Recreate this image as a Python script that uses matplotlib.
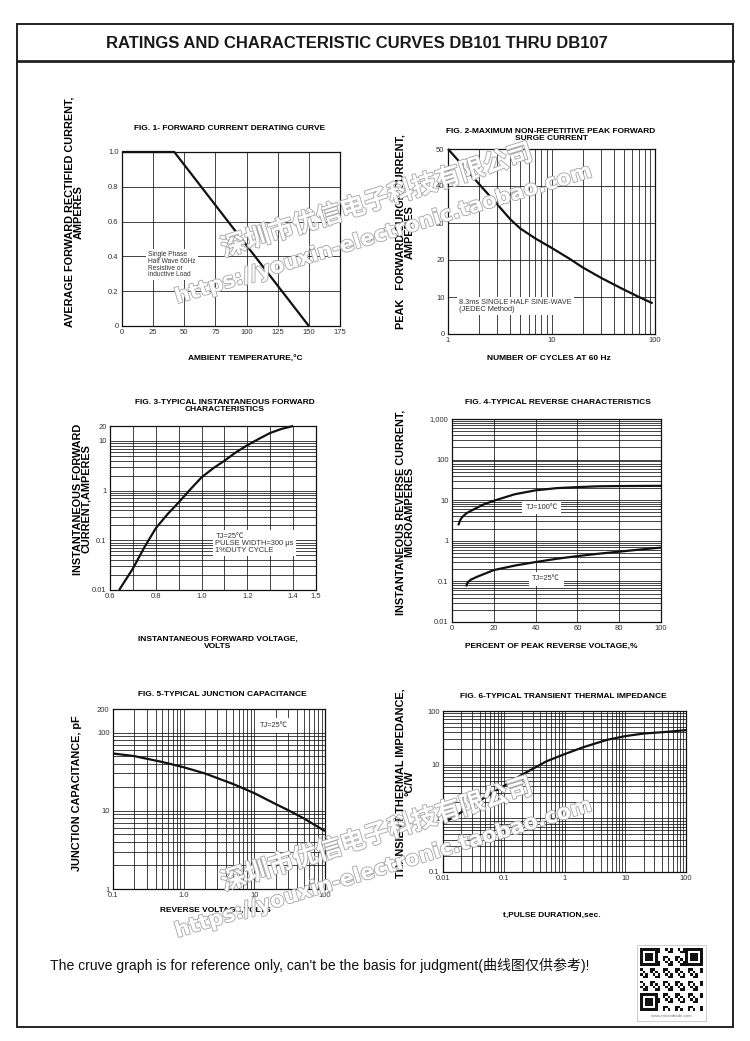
import matplotlib
matplotlib.use('Agg')
import matplotlib.pyplot as plt
import matplotlib.patheffects as pe
from matplotlib.patches import Rectangle
from matplotlib.lines import Line2D
from matplotlib.ticker import FixedLocator, LogLocator, NullFormatter

plt.rcParams['font.family'] = ['Liberation Sans', 'Noto Sans CJK SC', 'DejaVu Sans']

W, H = 750, 1041

# ---- values ----
# Fig 1 - forward current derating
f1_temp = [0, 42, 150]
f1_amps = [1.0, 1.0, 0.0]

# Fig 2 - peak forward surge current
f2_cycles = [1, 1.5, 2, 3, 4, 5, 7, 10, 15, 20, 30, 50, 70, 95]
f2_amps = [50, 44.5, 40.5, 35, 31, 28.5, 25.8, 23.3, 20.3, 18, 15.2, 12, 10, 8.3]

# Fig 3 - instantaneous forward characteristics
f3_volts = [0.64, 0.7, 0.75, 0.8, 0.85, 0.9, 0.95, 1.0, 1.05, 1.1, 1.15, 1.2, 1.25, 1.3, 1.35, 1.4]
f3_amps = [0.01, 0.027, 0.072, 0.175, 0.33, 0.58, 1.05, 1.85, 2.8, 4.0, 5.9, 8.2, 11, 14.5, 17.5, 20]

# Fig 4 - reverse characteristics
f4_pct_100 = [3, 4, 5, 7, 10, 15, 20, 30, 40, 50, 60, 70, 80, 100]
f4_ua_100 = [2.4, 3.3, 3.9, 4.8, 5.8, 7.8, 9.7, 14, 17.5, 19.8, 21, 22, 22.3, 22.6]
f4_pct_25 = [6.8, 7.5, 9, 12, 20, 30, 40, 50, 60, 70, 80, 90, 100]
f4_ua_25 = [0.075, 0.095, 0.11, 0.13, 0.19, 0.245, 0.30, 0.36, 0.42, 0.48, 0.54, 0.61, 0.68]

# Fig 5 - junction capacitance
f5_volts = [0.1, 0.2, 0.5, 1, 2, 5, 10, 20, 30, 50, 100]
f5_pf = [54, 50, 42, 36, 30, 22, 16.8, 12.2, 10.2, 8, 5.5]

# Fig 6 - transient thermal impedance
f6_sec = [0.01, 0.02, 0.05, 0.1, 0.2, 0.5, 1, 2, 5, 10, 20, 50, 100]
f6_cw = [0.8, 1.3, 2.5, 4, 6.5, 11.5, 15.7, 21, 29, 34, 38, 41, 44]

fig = plt.figure(figsize=(W / 100, H / 100), dpi=100)
fig.patch.set_facecolor('white')


def px_axes(l, t, r, b):
    return fig.add_axes([l / W, 1 - b / H, (r - l) / W, (b - t) / H])


def ftext(x, y, s, **kw):
    return fig.text(x / W, 1 - y / H, s, **kw)


grid_kw = dict(color='#111111', linewidth=0.55)
curve_kw = dict(color='#111111', linewidth=1.6, solid_capstyle='butt', clip_on=False, zorder=4)
box_kw = dict(facecolor='white', edgecolor='none', pad=1.5)


def style(ax):
    ax.tick_params(which='both', length=0, pad=2.5, labelsize=5.5, labelcolor='#333333')
    for s in ax.spines.values():
        s.set_linewidth(0.9)
        s.set_color('#111111')
    ax.set_axisbelow(True)


def log_minor(axis):
    axis.set_minor_locator(LogLocator(base=10, subs=range(2, 10)))
    axis.set_minor_formatter(NullFormatter())


# ---------- frame ----------
fig.add_artist(Rectangle((17 / W, 1 - 1027 / H), (733 - 17) / W, (1027 - 24) / H,
                         transform=fig.transFigure, fill=False, lw=1.4, ec='#222222'))
fig.add_artist(Line2D([17 / W, 733 / W], [1 - 61 / H, 1 - 61 / H],
                      transform=fig.transFigure, lw=2.0, color='#222222'))
ftext(357, 43, 'RATINGS AND CHARACTERISTIC CURVES DB101 THRU DB107',
      fontsize=12, fontweight='bold', ha='center', va='center', color='#1a1a1a')

# ---------- Fig 1 ----------
ax1 = px_axes(122, 152, 340, 326)
style(ax1)
ax1.plot(f1_temp, f1_amps, **curve_kw)
ax1.set_xlim(0, 175)
ax1.set_ylim(0, 1.0)
ax1.set_xticks(range(0, 176, 25))
ax1.set_yticks([0, 0.2, 0.4, 0.6, 0.8, 1.0])
ax1.set_yticklabels(['0', '0.2', '0.4', '0.6', '0.8', '1.0'])
ax1.grid(True, **grid_kw)
ax1.text(21, 0.352, 'Single Phase\nHalf Wave 60Hz\nResistive or\ninductive Load',
         fontsize=4.8, ha='left', va='center', linespacing=0.95, color='#333333', bbox=box_kw)
ftext(230, 129, 'FIG. 1- FORWARD CURRENT DERATING CURVE', fontsize=6, fontweight='bold',
      ha='center', va='center')
ftext(245, 359, 'AMBIENT TEMPERATURE,°C', fontsize=6, fontweight='bold', ha='center', va='center')
ftext(74, 212, 'AVERAGE FORWARD RECTIFIED CURRENT,\nAMPERES', fontsize=7.8, fontweight='bold',
      rotation=90, ha='center', va='center', linespacing=0.85)

# ---------- Fig 2 ----------
ax2 = px_axes(448, 149, 655, 334)
style(ax2)
ax2.plot(f2_cycles, f2_amps, **curve_kw)
ax2.set_xscale('log')
ax2.set_xlim(1, 100)
ax2.set_ylim(0, 50)
ax2.xaxis.set_major_locator(FixedLocator([1, 10, 100]))
ax2.set_xticklabels(['1', '10', '100'])
log_minor(ax2.xaxis)
ax2.set_yticks(range(0, 51, 10))
ax2.grid(True, which='both', axis='x', **grid_kw)
ax2.grid(True, which='major', axis='y', **grid_kw)
ax2.text(1.28, 7.6, '8.3ms SINGLE HALF SINE-WAVE\n(JEDEC Method)', fontsize=5.3,
         ha='left', va='center', linespacing=1.0, color='#333333', bbox=box_kw)
ftext(551, 135, 'FIG. 2-MAXIMUM NON-REPETITIVE PEAK FORWARD\nSURGE CURRENT', fontsize=6,
      fontweight='bold', ha='center', va='center', linespacing=0.85)
ftext(549, 359, 'NUMBER OF CYCLES AT 60 Hz', fontsize=6, fontweight='bold', ha='center', va='center')
ftext(405, 232, 'PEAK   FORWARD SURGE CURRENT,\nAMPERES', fontsize=7.8, fontweight='bold',
      rotation=90, ha='center', va='center', linespacing=0.85)

# ---------- Fig 3 ----------
ax3 = px_axes(110, 426, 316, 590)
style(ax3)
ax3.plot(f3_volts, f3_amps, **curve_kw)
ax3.set_yscale('log')
ax3.set_xlim(0.6, 1.5)
ax3.set_ylim(0.01, 20)
f3_xt = [0.6, 0.7, 0.8, 0.9, 1.0, 1.1, 1.2, 1.3, 1.4, 1.5]
ax3.set_xticks(f3_xt)
ax3.set_xticklabels(['0.6', '', '0.8', '', '1.0', '', '1.2', '', '1.4', '1.5'])
ax3.yaxis.set_major_locator(FixedLocator([0.01, 0.1, 1, 10, 20]))
ax3.set_yticklabels(['0.01', '0.1', '1', '10', '20'])
log_minor(ax3.yaxis)
ax3.grid(True, which='major', axis='x', **grid_kw)
ax3.grid(True, which='both', axis='y', **grid_kw)
ax3.text(1.06, 0.088, 'TJ=25℃\nPULSE WIDTH=300 μs\n1%DUTY CYCLE', fontsize=5.4,
         ha='left', va='center', linespacing=1.0, color='#333333', bbox=box_kw)
ftext(225, 406, 'FIG. 3-TYPICAL INSTANTANEOUS FORWARD\nCHARACTERISTICS', fontsize=6,
      fontweight='bold', ha='center', va='center', linespacing=0.85)
ftext(218, 643, 'INSTANTANEOUS FORWARD VOLTAGE,\nVOLTS', fontsize=6, fontweight='bold',
      ha='center', va='center', linespacing=0.9)
ftext(82, 499, 'INSTANTANEOUS FORWARD\nCURRENT,AMPERES', fontsize=7.8, fontweight='bold',
      rotation=90, ha='center', va='center', linespacing=0.85)

# ---------- Fig 4 ----------
ax4 = px_axes(452, 419, 661, 622)
style(ax4)
ax4.plot(f4_pct_100, f4_ua_100, **curve_kw)
ax4.plot(f4_pct_25, f4_ua_25, **curve_kw)
ax4.set_yscale('log')
ax4.set_xlim(0, 100)
ax4.set_ylim(0.01, 1000)
ax4.set_xticks(range(0, 101, 20))
ax4.yaxis.set_major_locator(FixedLocator([0.01, 0.1, 1, 10, 100, 1000]))
ax4.set_yticklabels(['0.01', '0.1', '1', '10', '100', '1,000'])
log_minor(ax4.yaxis)
ax4.grid(True, which='major', axis='x', **grid_kw)
ax4.grid(True, which='both', axis='y', **grid_kw)
ax4.text(43, 6.6, 'TJ=100℃', fontsize=5.3, ha='center', va='center', color='#333333',
         bbox=dict(facecolor='white', edgecolor='none', pad=2.5))
ax4.text(45, 0.117, 'TJ=25℃', fontsize=5.3, ha='center', va='center', color='#333333',
         bbox=dict(facecolor='white', edgecolor='none', pad=2.5))
ftext(558, 402, 'FIG. 4-TYPICAL REVERSE CHARACTERISTICS', fontsize=6, fontweight='bold',
      ha='center', va='center')
ftext(551, 646, 'PERCENT OF PEAK REVERSE VOLTAGE,%', fontsize=6, fontweight='bold',
      ha='center', va='center')
ftext(405, 512, 'INSTANTANEOUS REVERSE CURRENT,\nMICROAMPERES', fontsize=7.8, fontweight='bold',
      rotation=90, ha='center', va='center', linespacing=0.85)

# ---------- Fig 5 ----------
ax5 = px_axes(113, 709, 325, 889)
style(ax5)
ax5.plot(f5_volts, f5_pf, **curve_kw)
ax5.set_xscale('log')
ax5.set_yscale('log')
ax5.set_xlim(0.1, 100)
ax5.set_ylim(1, 200)
ax5.xaxis.set_major_locator(FixedLocator([0.1, 1, 10, 100]))
ax5.set_xticklabels(['0.1', '1.0', '10', '100'])
ax5.yaxis.set_major_locator(FixedLocator([1, 10, 100, 200]))
ax5.set_yticklabels(['1', '10', '100', '200'])
log_minor(ax5.xaxis)
log_minor(ax5.yaxis)
ax5.grid(True, which='both', **grid_kw)
ax5.text(19, 122, 'TJ=25℃', fontsize=5.3, ha='center', va='center', color='#333333',
         bbox=dict(facecolor='white', edgecolor='none', pad=3))
ftext(222, 695, 'FIG. 5-TYPICAL JUNCTION CAPACITANCE', fontsize=6, fontweight='bold',
      ha='center', va='center')
ftext(215, 910, 'REVERSE VOLTAGE,VOLTS', fontsize=6, fontweight='bold', ha='center', va='center')
ftext(77, 793, 'JUNCTION CAPACITANCE, pF', fontsize=7.8, fontweight='bold',
      rotation=90, ha='center', va='center')

# ---------- Fig 6 ----------
ax6 = px_axes(443, 711, 686, 872)
style(ax6)
ax6.plot(f6_sec, f6_cw, **curve_kw)
ax6.set_xscale('log')
ax6.set_yscale('log')
ax6.set_xlim(0.01, 100)
ax6.set_ylim(0.1, 100)
ax6.xaxis.set_major_locator(FixedLocator([0.01, 0.1, 1, 10, 100]))
ax6.set_xticklabels(['0.01', '0.1', '1', '10', '100'])
ax6.yaxis.set_major_locator(FixedLocator([0.1, 1, 10, 100]))
ax6.set_yticklabels(['0.1', '1', '10', '100'])
log_minor(ax6.xaxis)
log_minor(ax6.yaxis)
ax6.grid(True, which='both', **grid_kw)
ftext(563, 696, 'FIG. 6-TYPICAL TRANSIENT THERMAL IMPEDANCE', fontsize=6, fontweight='bold',
      ha='center', va='center')
ftext(552, 915, 't,PULSE DURATION,sec.', fontsize=6, fontweight='bold', ha='center', va='center')
ftext(405, 783, 'TRANSIENT THERMAL IMPEDANCE,\n°C/W', fontsize=7.8, fontweight='bold',
      rotation=90, ha='center', va='center', linespacing=0.85)

# ---------- watermarks ----------
wm = [pe.withStroke(linewidth=1.3, foreground='#aaaaaa')]
for cy in (0, 634):
    ftext(377, 201 + cy, '深圳市优信电子科技有限公司', family=['Noto Sans CJK SC'], fontsize=18,
          fontweight='bold', color='white', rotation=17.5, ha='center', va='center',
          path_effects=wm, zorder=5)
    ftext(384, 234 + cy, 'https://youxin-electronic.taobao.com', family=['DejaVu Sans'],
          fontsize=15, fontweight='bold', color='white', rotation=17, ha='center', va='center',
          path_effects=wm, zorder=5)

# ---------- footer ----------
ftext(50, 965, "The cruve graph is for reference only, can't be the basis for judgment(曲线图仅供参考)!",
      fontsize=10.1, ha='left', va='center', color='#111111')

# QR-like badge
qx0, qy0, qs = 640, 948, 63
fig.add_artist(Rectangle(((qx0 - 3) / W, 1 - (qy0 + qs + 10) / H), (qs + 6) / W, (qs + 13) / H,
                         transform=fig.transFigure, fill=True, fc='white', lw=0.5, ec='#bbbbbb'))
n = 25
cell = qs / n
for i in range(n):
    for j in range(n):
        in_finder = (i < 7 and j < 7) or (i < 7 and j >= n - 7) or (i >= n - 7 and j < 7)
        if in_finder:
            a = i if i < 7 else i - (n - 7)
            b = j if j < 7 else j - (n - 7)
            on = a in (0, 6) or b in (0, 6) or (2 <= a <= 4 and 2 <= b <= 4)
        else:
            on = ((i * 7 + j * 13 + i * j) % 5) < 2
        if on:
            fig.add_artist(Rectangle(((qx0 + j * cell) / W, 1 - (qy0 + (i + 1) * cell) / H),
                                     cell / W, cell / H, transform=fig.transFigure,
                                     fc='#111111', ec='none'))
ftext(qx0 + qs / 2, qy0 + qs + 5, 'www.microdiode.com', fontsize=3.2, ha='center',
      va='center', color='#777777')

fig.savefig('out.png', dpi=100)
